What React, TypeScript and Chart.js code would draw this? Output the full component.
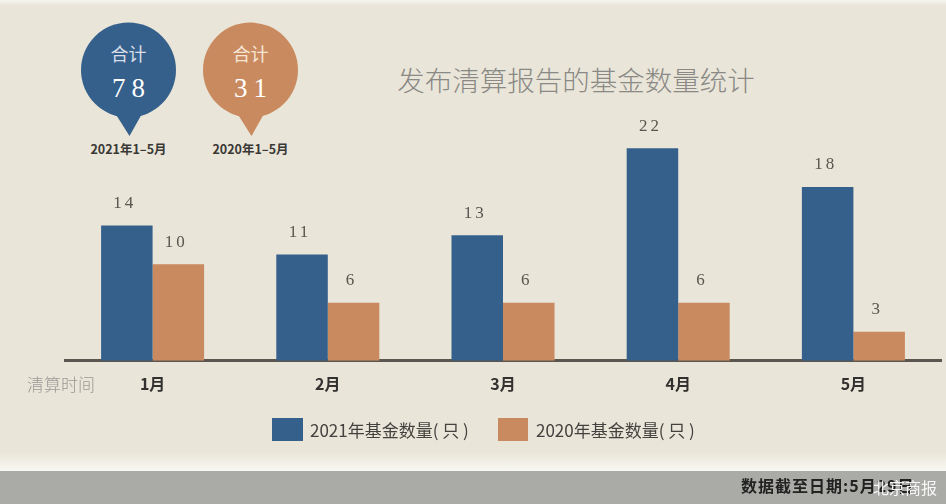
import React, { useEffect, useRef } from 'react';
import { Chart, registerables } from 'chart.js';

Chart.register(...registerables);

const months = ['1月', '2月', '3月', '4月', '5月'];
const funds2021 = [14, 11, 13, 22, 18];
const funds2020 = [10, 6, 6, 6, 3];
const seriesNames = ['2021年基金数量( 只 )', '2020年基金数量( 只 )'];
const bubbleCaptions = ['2021年1–5月', '2020年1–5月'];

const BLUE = '#35608b';
const ORANGE = '#c98a5f';
const BG = '#e9e5d9';
const CJK = '"Noto Sans CJK SC", "Noto Sans", sans-serif';

const labelPlugin = {
  id: 'valueLabels',
  afterDatasetsDraw(chart: any) {
    const ctx = chart.ctx;
    ctx.save();
    ctx.font = '17px "Liberation Serif", "DejaVu Serif", serif';
    ctx.fillStyle = '#5a554e';
    ctx.textAlign = 'center';
    ctx.textBaseline = 'middle';
    try { (ctx as any).letterSpacing = '3px'; } catch (e) {}
    chart.data.datasets.forEach((ds: any, i: number) => {
      const meta = chart.getDatasetMeta(i);
      meta.data.forEach((el: any, j: number) => {
        ctx.fillText(String(ds.data[j]), el.x - 2, el.y - 22);
      });
    });
    ctx.restore();
  },
};

function Bubble(props: { cx: number; cy: number; r: number; tipY: number; color: string; total: number; caption: string; light: string }) {
  const { cx, cy, r, tipY, color, total, caption, light } = props;
  return (
    <>
      <svg style={{ position: 'absolute', left: 0, top: 0 }} width={946} height={504}>
        <circle cx={cx} cy={cy} r={r} fill={color} />
        <polygon points={`${cx - 17},${cy + r - 10} ${cx + 17},${cy + r - 10} ${cx + 1},${tipY}`} fill={color} />
      </svg>
      <div style={{ position: 'absolute', left: cx - 50, width: 100, top: cy - 29, textAlign: 'center', font: `18px ${CJK}`, color: light, lineHeight: '24px' }}>合计</div>
      <div style={{ position: 'absolute', left: cx - 50, width: 100, top: cy + 1, textAlign: 'center', font: '27px "Liberation Serif", serif', color: '#ffffff', letterSpacing: '6px', paddingLeft: 6, boxSizing: 'border-box', lineHeight: '34px' }}>{total}</div>
      <div style={{ position: 'absolute', left: cx - 60, width: 120, top: 141, textAlign: 'center', font: `bold 12.5px ${CJK}`, color: '#3a3835', lineHeight: '16px' }}>{caption}</div>
    </>
  );
}

export default function App() {
  const canvasRef = useRef<HTMLCanvasElement>(null);

  useEffect(() => {
    if (!canvasRef.current) return;
    const chart = new Chart(canvasRef.current, {
      type: 'bar',
      data: {
        labels: months,
        datasets: [
          { label: seriesNames[0], data: funds2021, backgroundColor: BLUE, borderWidth: 0, barPercentage: 1, categoryPercentage: 0.588 },
          { label: seriesNames[1], data: funds2020, backgroundColor: ORANGE, borderWidth: 0, barPercentage: 1, categoryPercentage: 0.588 },
        ],
      },
      options: {
        animation: false,
        responsive: false,
        maintainAspectRatio: false,
        layout: { padding: { left: 65, right: 5, top: 129, bottom: 96 } },
        plugins: { legend: { display: false }, tooltip: { enabled: false } },
        scales: {
          x: {
            grid: { display: false, drawTicks: false },
            border: { display: true, color: '#5b5650', width: 3 },
            ticks: { color: '#333130', padding: 14, font: { size: 16, weight: 'bold', family: CJK } },
          },
          y: { display: false, min: 0, max: 24 },
        },
      },
      plugins: [labelPlugin],
    });
    return () => chart.destroy();
  }, []);

  const total2021 = funds2021.reduce((a, b) => a + b, 0);
  const total2020 = funds2020.reduce((a, b) => a + b, 0);

  return (
    <div style={{ position: 'fixed', left: 0, top: 0, width: 946, height: 504, background: BG, overflow: 'hidden', fontFamily: CJK }}>
      <div style={{ position: 'absolute', left: 0, top: 0, width: 946, height: 6, background: 'linear-gradient(#f6f4ee, rgba(233,229,217,0))' }} />
      <div style={{ position: 'absolute', left: 0, top: 452, width: 946, height: 20, background: 'linear-gradient(rgba(255,255,255,0), rgba(250,250,246,0.95))' }} />
      <div style={{ position: 'absolute', left: 0, top: 471, width: 946, height: 33, background: '#aaaaa7' }} />
      <Bubble cx={128.5} cy={70} r={47.5} tipY={136} color={BLUE} total={total2021} caption={bubbleCaptions[0]} light="#d9deea" />
      <Bubble cx={250.5} cy={70} r={47.5} tipY={136} color={ORANGE} total={total2020} caption={bubbleCaptions[1]} light="#f6e6d6" />
      <div style={{ position: 'absolute', left: 376, width: 400, top: 60, textAlign: 'center', font: `300 27.5px ${CJK}`, color: '#8a8985', lineHeight: '38px' }}>发布清算报告的基金数量统计</div>
      <canvas ref={canvasRef} width={946} height={504} style={{ position: 'absolute', left: 0, top: 0 }} />
      <div style={{ position: 'absolute', left: 27, top: 373, font: `300 17px ${CJK}`, color: '#9b9994', lineHeight: '22px' }}>清算时间</div>
      <div style={{ position: 'absolute', left: 272, top: 418, width: 31, height: 23, background: BLUE }} />
      <div style={{ position: 'absolute', left: 310, top: 418, font: `17px ${CJK}`, color: '#44423f', lineHeight: '23px', whiteSpace: 'nowrap' }}>{seriesNames[0]}</div>
      <div style={{ position: 'absolute', left: 498, top: 418, width: 30, height: 23, background: ORANGE }} />
      <div style={{ position: 'absolute', left: 536, top: 418, font: `17px ${CJK}`, color: '#44423f', lineHeight: '23px', whiteSpace: 'nowrap' }}>{seriesNames[1]}</div>
      <div style={{ position: 'absolute', left: 741, top: 474, font: `bold 16px ${CJK}`, color: '#222222', lineHeight: '22px', whiteSpace: 'nowrap', letterSpacing: '1px' }}>数据截至日期:5月29日</div>
      <div style={{ position: 'absolute', left: 873, top: 476, font: `16px ${CJK}`, color: 'rgba(255,255,255,0.92)', lineHeight: '22px', whiteSpace: 'nowrap' }}>北京商报</div>
    </div>
  );
}
